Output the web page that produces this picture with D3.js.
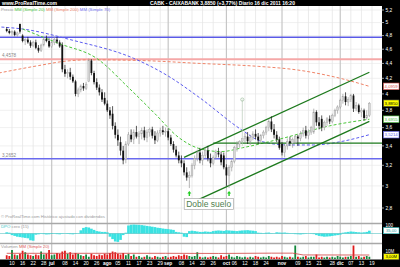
<!DOCTYPE html>
<html>
<head>
<meta charset="utf-8">
<script src="https://cdn.jsdelivr.net/npm/d3@7"></script>
<style>
  body { margin: 0; background: #fff; }
  svg { display: block; font-family: "Liberation Sans", Arial, sans-serif; }
</style>
</head>
<body>
<svg width="400" height="267"></svg>
<script>
// trading days on the axis (weekdays), the last few are empty future days
var firstDay = "2011-06-08", lastDay = "2011-12-23";

var open = [4.90,4.87,4.84,4.86,4.81,4.98,4.80,4.72,4.74,4.70,4.65,4.70,4.62,4.58,4.66,4.75,4.72,4.64,4.70,4.74,
  4.70,4.66,4.32,4.26,4.28,4.22,4.16,4.00,4.05,4.10,4.07,4.16,4.44,4.27,4.15,4.08,4.02,3.95,3.88,3.80,
  3.76,3.62,3.52,3.44,3.35,3.26,3.42,3.52,3.47,3.55,3.50,3.53,3.57,3.49,3.55,3.58,3.51,3.46,3.54,3.57,
  3.55,3.56,3.49,3.42,3.36,3.30,3.25,3.22,3.13,3.08,3.10,3.20,3.27,3.33,3.25,3.30,3.35,3.27,3.22,3.28,
  3.33,3.31,3.30,3.18,3.10,3.18,3.24,3.38,3.42,3.45,3.48,3.50,3.45,3.49,3.53,3.50,3.46,3.51,3.55,3.60,
  3.67,3.58,3.52,3.47,3.42,3.33,3.40,3.45,3.43,3.44,3.50,3.48,3.53,3.57,3.51,3.55,3.55,3.78,3.66,3.70,
  3.60,3.66,3.70,3.67,3.74,3.80,3.84,3.92,3.97,3.90,3.93,3.98,3.82,3.86,3.78,3.80,3.71,3.74];
var high = [4.93,4.90,4.88,4.88,4.86,4.97,4.82,4.76,4.78,4.73,4.72,4.74,4.66,4.68,4.77,4.80,4.76,4.72,4.78,4.78,
  4.73,4.70,4.38,4.32,4.34,4.25,4.18,4.08,4.12,4.14,4.15,4.47,4.46,4.30,4.20,4.12,4.06,4.02,3.92,3.84,
  3.85,3.66,3.58,3.50,3.40,3.45,3.55,3.58,3.58,3.62,3.56,3.60,3.61,3.58,3.60,3.61,3.56,3.57,3.60,3.62,
  3.60,3.59,3.52,3.45,3.40,3.34,3.30,3.25,3.18,3.14,3.22,3.30,3.36,3.38,3.34,3.38,3.40,3.32,3.30,3.36,
  3.38,3.34,3.33,3.21,3.20,3.26,3.40,3.45,3.46,3.93,3.54,3.55,3.52,3.56,3.58,3.54,3.53,3.57,3.62,3.70,
  3.73,3.64,3.56,3.50,3.44,3.42,3.48,3.50,3.49,3.52,3.52,3.56,3.60,3.62,3.58,3.62,3.82,3.80,3.72,3.74,
  3.68,3.72,3.74,3.76,3.82,3.86,3.94,4.00,4.02,3.96,4.00,4.00,3.90,3.88,3.83,3.82,3.80,3.90];
var low = [4.85,4.82,4.80,4.79,4.78,4.83,4.70,4.66,4.68,4.62,4.63,4.60,4.55,4.56,4.64,4.70,4.62,4.62,4.66,4.68,
  4.62,4.28,4.22,4.20,4.18,4.14,3.97,3.96,4.02,4.04,4.05,4.15,4.24,4.12,4.05,3.98,3.90,3.86,3.78,3.70,
  3.58,3.48,3.40,3.30,3.21,3.22,3.40,3.44,3.42,3.48,3.42,3.47,3.46,3.44,3.50,3.48,3.42,3.44,3.50,3.52,
  3.50,3.46,3.40,3.33,3.28,3.22,3.18,3.10,3.05,2.98,3.08,3.16,3.24,3.22,3.20,3.27,3.24,3.18,3.20,3.26,
  3.28,3.20,3.16,3.00,2.98,3.14,3.22,3.34,3.38,3.40,3.43,3.42,3.41,3.46,3.47,3.42,3.44,3.48,3.52,3.56,
  3.55,3.48,3.44,3.36,3.30,3.28,3.36,3.40,3.38,3.42,3.40,3.45,3.50,3.48,3.47,3.52,3.53,3.62,3.58,3.56,
  3.57,3.62,3.64,3.65,3.72,3.76,3.82,3.88,3.86,3.85,3.90,3.78,3.79,3.76,3.72,3.68,3.69,3.72];
var close = [4.87,4.84,4.86,4.81,4.84,4.86,4.72,4.74,4.70,4.65,4.70,4.62,4.58,4.66,4.75,4.72,4.64,4.70,4.74,4.71,
  4.64,4.32,4.26,4.28,4.22,4.16,4.00,4.05,4.10,4.07,4.12,4.44,4.27,4.15,4.08,4.02,3.93,3.88,3.80,3.74,
  3.62,3.52,3.46,3.35,3.25,3.42,3.52,3.47,3.55,3.50,3.53,3.57,3.49,3.55,3.58,3.51,3.46,3.54,3.57,3.55,
  3.56,3.49,3.42,3.36,3.30,3.25,3.22,3.13,3.08,3.10,3.20,3.27,3.33,3.25,3.30,3.35,3.27,3.22,3.28,3.33,
  3.31,3.23,3.18,3.10,3.18,3.24,3.38,3.42,3.45,3.48,3.50,3.45,3.49,3.53,3.50,3.46,3.51,3.55,3.60,3.67,
  3.58,3.52,3.47,3.38,3.33,3.40,3.45,3.43,3.47,3.50,3.48,3.53,3.57,3.51,3.55,3.60,3.78,3.66,3.62,3.60,
  3.66,3.70,3.67,3.74,3.80,3.84,3.92,3.97,3.90,3.93,3.98,3.82,3.86,3.78,3.80,3.71,3.74,3.885];

// oscillator histogram
var osc = [15,10,-20,-30,-40,-45,-50,-55,-60,-85,-90,-15,-10,-5,-8,-12,-10,-6,-4,-8,
  -10,-5,-3,-6,-8,-10,-5,-3,40,70,80,75,60,45,30,25,20,20,15,-40,
  -70,-100,-105,-80,-20,10,100,110,112,110,108,105,100,95,90,85,80,72,68,62,
  58,55,50,45,20,15,10,-40,-45,30,35,30,25,20,20,25,22,20,30,35,
  38,35,32,40,38,35,33,30,35,38,40,42,38,35,30,10,8,5,10,12,
  5,3,15,12,10,12,8,5,-5,-8,-10,-12,-8,-5,-2,-5,-8,-20,-30,-35,
  -40,-38,-35,-30,-25,-20,-15,10,15,20,25,22,18,15,12,15,20,35];

// volume, millions
var volume = [5,4,12,6,5,7,11,9,6,5,4,6,5,10,6,7,12,5,6,8,
  7,10,11,7,9,6,8,7,5,4,6,3,7,5,4,6,5,7,6,8,
  10,9,7,6,8,5,7,4,6,3,4,2,3,5,3,2,4,3,2,3,
  4,2,3,4,3,5,4,6,5,4,3,4,9,3,2,3,2,3,4,3,
  2,5,3,4,6,3,2,4,3,2,3,2,3,2,4,3,2,3,2,4,
  3,2,3,2,4,3,2,3,2,18,3,2,3,4,2,3,3,6,2,3,
  2,3,2,3,2,4,3,2,3,3,4,18,3,4,2,3,4,3];

// moving averages: [day index, value]
var ma20 = [[6,4.90],[20,4.68],[34,4.47],[46,4.08],[56,3.76],[65,3.49],[73,3.37],[81,3.34],[89,3.38],[104,3.48],[122,3.62],[137,3.6955]];
var ma200 = [[-3,4.27],[12,4.37],[22,4.43],[31,4.45],[51,4.44],[73,4.40],[95,4.36],[110,4.31],[126,4.20],[137,4.0959]];
var ma70 = [[-2,4.93],[6,4.90],[25,4.73],[48,4.47],[61,4.23],[73,3.95],[89,3.57],[96,3.45],[106,3.41],[116,3.41],[127,3.45],[137,3.5214]];
var volMa = [[0,7.6],[60,7.6],[80,7.4],[100,7.8],[108,7.8],[112,5.4],[137,5.3]];

// drawn objects
var channelUp = [[67,3.28],[137,4.28]];
var channelDown = [[72,2.87],[137,3.67]];
var support = 3.43, supportFrom = 78;
var levels = [{v: 4.775, c: "#5a5ae6", w: 1.6, label: ""},
              {v: 4.4578, c: "#f5a8a8", w: 2, label: "4,4578"},
              {v: 3.2652, c: "#6a6aee", w: 1.5, label: "3,2652"}];
var bottoms = [69, 84];
var spike = [89, 3.93];
var note = {i: 76.3, v: 2.835, text: "Doble suelo"};

var priceTicks = [5.2,5,4.8,4.6,4.4,4.2,4,3.8,3.6,3.4,3.2,3,2.8];
var tickDays = ["2011-06-10","2011-06-16","2011-06-22","2011-06-28","2011-07-01","2011-07-08","2011-07-14","2011-07-20","2011-07-26",
  "2011-08-01","2011-08-05","2011-08-11","2011-08-17","2011-08-23","2011-08-29","2011-09-01","2011-09-08","2011-09-14","2011-09-20","2011-09-26",
  "2011-10-03","2011-10-06","2011-10-12","2011-10-18","2011-10-24","2011-11-01","2011-11-09","2011-11-15","2011-11-21","2011-11-28",
  "2011-12-01","2011-12-07","2011-12-13","2011-12-19"];
var tickLabels = ["10","16","22","28","jul","08","14","20","26","ago","05","11","17","23","29","sep","08","14","20","26",
  "oct","06","12","18","24","nov","09","15","21","28","dic","07","13","19"];
var months = ["jul","ago","sep","oct","nov","dic"];

var es = d3.formatLocale({decimal: ",", thousands: ".", grouping: [3], currency: ["", "€"]});

var svg = d3.select("svg");
var plotR = 382;

var parse = d3.timeParse("%Y-%m-%d"), key = d3.timeFormat("%Y-%m-%d");
var days = d3.timeDay.range(parse(firstDay), d3.timeDay.offset(parse(lastDay), 1))
  .filter(function(d) { return d.getDay() != 0 && d.getDay() != 6; })
  .map(key);

var x = d3.scaleLinear().domain([0, days.length - 1]).range([6.7, 382.6]);
var y = d3.scaleLog().domain([2.8, 5.2]).range([208, 10]);
var yOsc = d3.scaleLinear().domain([0, 100]).range([233.5, 225.5]);
var yVol = d3.scaleLinear().domain([0, 10]).range([259, 251.5]);

// grid
var ticksX = tickDays.map(function(d, k) { return {x: x(days.indexOf(d)), label: tickLabels[k], month: months.indexOf(tickLabels[k]) >= 0}; });
svg.append("g").selectAll("line").data(priceTicks).enter().append("line")
  .attr("x1", 0).attr("x2", plotR).attr("y1", function(d) { return y(d); }).attr("y2", function(d) { return y(d); })
  .attr("stroke", "#ececec").attr("stroke-width", 0.8);
svg.append("g").selectAll("line").data(ticksX).enter().append("line")
  .attr("x1", function(d) { return d.x; }).attr("x2", function(d) { return d.x; })
  .attr("y1", 6).attr("y2", 259)
  .attr("stroke", function(d) { return d.month ? "#c6c6c6" : "#e6e6e6"; })
  .attr("stroke-width", function(d) { return d.month ? 1.2 : 0.8; });

// horizontal levels
levels.forEach(function(l) {
  svg.append("line").attr("x1", 0).attr("x2", plotR).attr("y1", y(l.v)).attr("y2", y(l.v))
    .attr("stroke", l.c).attr("stroke-width", l.w);
  if (l.label) svg.append("text").attr("x", 2).attr("y", y(l.v) - 2).attr("font-size", 4.6)
    .attr("fill", "#888").text(l.label);
});

// moving averages
var line = d3.line().curve(d3.curveMonotoneX)
  .x(function(d) { return x(d[0]); }).y(function(d) { return y(d[1]); });
[[ma200, "#f08468"], [ma70, "#5c5cf0"], [ma20, "#4cc63c"]].forEach(function(m) {
  svg.append("path").attr("d", line(m[0])).attr("fill", "none")
    .attr("stroke", m[1]).attr("stroke-width", 1).attr("stroke-dasharray", "3,2");
});

// channel and support
var straight = d3.line().x(function(d) { return x(d[0]); }).y(function(d) { return y(d[1]); });
[channelUp, channelDown].forEach(function(c) {
  svg.append("path").attr("d", straight(c)).attr("fill", "none").attr("stroke", "#1d7a1d").attr("stroke-width", 1.3);
});
svg.append("line").attr("x1", x(supportFrom)).attr("x2", plotR).attr("y1", y(support)).attr("y2", y(support))
  .attr("stroke", "#1d7a1d").attr("stroke-width", 1.3);

// candles
var idx = d3.range(close.length);
var up = function(i) { return close[i] >= open[i]; };
svg.append("g").selectAll("line").data(idx).enter().append("line")
  .attr("x1", function(i) { return x(i); }).attr("x2", function(i) { return x(i); })
  .attr("y1", function(i) { return y(high[i]); }).attr("y2", function(i) { return y(low[i]); })
  .attr("stroke", function(i) { return i == spike[0] ? "#b8c8b8" : up(i) ? "#9a9a9a" : "#111"; })
  .attr("stroke-width", 0.7);
svg.append("g").selectAll("rect").data(idx).enter().append("rect")
  .attr("x", function(i) { return x(i) - 0.9; }).attr("width", 1.8)
  .attr("y", function(i) { return y(Math.max(open[i], close[i])); })
  .attr("height", function(i) { return Math.max(0.7, Math.abs(y(open[i]) - y(close[i]))); })
  .attr("fill", function(i) { return up(i) ? "#d6d6d6" : "#111"; })
  .attr("stroke", function(i) { return up(i) ? "#a0a0a0" : "none"; }).attr("stroke-width", 0.4);
svg.append("circle").attr("cx", x(spike[0])).attr("cy", y(spike[1])).attr("r", 1.6)
  .attr("fill", "none").attr("stroke", "#a8c4a8").attr("stroke-width", 0.8);

// double bottom arrows and note
bottoms.forEach(function(i) {
  var ax = x(i), ay = y(low[i]) + 3;
  svg.append("path").attr("d", "M" + ax + "," + ay + "l-2,2.5h1.3v2.5h1.4v-2.5h1.3z").attr("fill", "#22cc22");
});
var nt = svg.append("text").attr("x", x(note.i)).attr("y", y(note.v) + 3).attr("text-anchor", "middle")
  .attr("font-size", 8.5).attr("fill", "#4f7f4f").text(note.text);
var bb = nt.node().getBBox();
svg.insert("rect", function() { return nt.node(); }).attr("x", bb.x - 2).attr("y", bb.y - 0.5)
  .attr("width", bb.width + 4).attr("height", bb.height + 1).attr("fill", "#fff").attr("stroke", "#aaa").attr("stroke-width", 0.7);

// legend
var leg = svg.append("text").attr("x", 1).attr("y", 10.5).attr("font-size", 4.3);
[["Precio ", "#999"], ["MM (Simple 20) ", "#4cc63c"], ["MM (Simple 200) ", "#f08468"], ["MM (Simple 70)", "#7070f0"]]
  .forEach(function(t) { leg.append("tspan").attr("fill", t[1]).text(t[0]); });
svg.append("text").attr("x", 1).attr("y", 218).attr("font-size", 4.3).attr("fill", "#999")
  .text("© ProRealTime.com Histórico ajustado con dividendos");

// oscillator panel
svg.append("line").attr("x1", 0).attr("x2", plotR).attr("y1", 223.5).attr("y2", 223.5).attr("stroke", "#a8a8a8").attr("stroke-width", 1.4);
svg.append("g").selectAll("rect").data(idx).enter().append("rect")
  .attr("x", function(i) { return x(i) - 1.33; }).attr("width", 2.66)
  .attr("y", function(i) { return Math.min(yOsc(osc[i]), yOsc(0)); })
  .attr("height", function(i) { return Math.abs(yOsc(osc[i]) - yOsc(0)); })
  .attr("fill", "#3ae2e2");
svg.append("line").attr("x1", 0).attr("x2", plotR).attr("y1", yOsc(0)).attr("y2", yOsc(0)).attr("stroke", "#3ab8b8").attr("stroke-width", 0.5);
var ol = svg.append("text").attr("x", 1).attr("y", 228).attr("font-size", 4.3);
ol.append("tspan").attr("fill", "#3ac8c8").text("DPO ");
ol.append("tspan").attr("fill", "#999").text("cero (15)");

// volume panel
svg.append("line").attr("x1", 0).attr("x2", plotR).attr("y1", 243.5).attr("y2", 243.5).attr("stroke", "#a8a8a8").attr("stroke-width", 1.4);
svg.append("g").selectAll("rect").data(idx).enter().append("rect")
  .attr("x", function(i) { return x(i) - 0.9; }).attr("width", 1.8)
  .attr("y", function(i) { return yVol(volume[i]); })
  .attr("height", function(i) { return yVol(0) - yVol(volume[i]); })
  .attr("fill", function(i) { return up(i) ? "#12873a" : "#e01a1a"; });
svg.append("path").attr("d", d3.line().x(function(d) { return x(d[0]); }).y(function(d) { return yVol(d[1]); })(volMa))
  .attr("fill", "none").attr("stroke", "#d04040").attr("stroke-width", 0.8);
var vl = svg.append("text").attr("x", 1).attr("y", 248).attr("font-size", 4.3);
vl.append("tspan").attr("fill", "#999").text("Volumen ");
vl.append("tspan").attr("fill", "#e06060").text("MM (Simple 20)");

// black frames
svg.append("rect").attr("x", 0).attr("y", 0).attr("width", 400).attr("height", 6).attr("fill", "#000");
svg.append("rect").attr("x", plotR).attr("y", 0).attr("width", 400 - plotR).attr("height", 267).attr("fill", "#000");
svg.append("rect").attr("x", 0).attr("y", 259.5).attr("width", 400).attr("height", 7.5).attr("fill", "#000");

svg.append("text").attr("x", 2).attr("y", 4.8).attr("font-size", 5).attr("font-weight", "bold").attr("fill", "#fff").text("www.ProRealTime.com");
svg.append("text").attr("x", 150).attr("y", 4.8).attr("font-size", 5).attr("font-weight", "bold").attr("fill", "#fff")
  .text("CABK - CAIXABANK   3,8850 (+3,77%)   Diario 16 dic 2011 16:20");

// date axis
svg.append("g").selectAll("text").data(ticksX).enter().append("text")
  .attr("x", function(d) { return d.x; }).attr("y", 265.3).attr("text-anchor", "middle")
  .attr("font-size", 4.8).attr("font-weight", function(d) { return d.month ? "bold" : "normal"; })
  .attr("fill", "#fff").text(function(d) { return d.label; });

// price axis
var fmt = es.format(".2~f");
svg.append("g").selectAll("text").data(priceTicks).enter().append("text")
  .attr("x", 385.5).attr("y", function(d) { return y(d) + 1.7; }).attr("font-size", 4.8)
  .attr("fill", "#fff").text(function(d) { return fmt(d); });
svg.append("g").selectAll("line").data(priceTicks).enter().append("line")
  .attr("x1", plotR).attr("x2", plotR + 2).attr("y1", function(d) { return y(d); }).attr("y2", function(d) { return y(d); })
  .attr("stroke", "#fff").attr("stroke-width", 0.6);

// last value boxes
var f4 = es.format(".4f");
var boxes = [[ma200[ma200.length - 1][1], "#fff", "#e05050", "#e05050"],
             [close[close.length - 1], "#ffff00", "#444", "#000"],
             [ma20[ma20.length - 1][1], "#fff", "#4cc63c", "#4cc63c"],
             [ma70[ma70.length - 1][1], "#fff", "#6060f0", "#6060f0"]];
boxes.forEach(function(b) {
  var by = y(b[0]);
  svg.append("rect").attr("x", 383.5).attr("y", by - 3.3).attr("width", 15.5).attr("height", 6.6)
    .attr("fill", b[1]).attr("stroke", b[2]).attr("stroke-width", 0.6);
  svg.append("text").attr("x", 391.2).attr("y", by + 1.6).attr("text-anchor", "middle").attr("font-size", 4.3)
    .attr("fill", b[3]).text(f4(b[0]));
});

// lower panel scales
svg.append("text").attr("x", 385.5).attr("y", yOsc(100) + 1.6).attr("font-size", 4.5).attr("fill", "#fff").text("100");
svg.append("rect").attr("x", 383.5).attr("y", yOsc(osc[osc.length - 1]) - 3).attr("width", 15.5).attr("height", 6)
  .attr("fill", "#fff").attr("stroke", "#3ac8c8").attr("stroke-width", 0.6);
svg.append("text").attr("x", 391.2).attr("y", yOsc(osc[osc.length - 1]) + 1.5).attr("text-anchor", "middle").attr("font-size", 4.2)
  .attr("fill", "#2aa8a8").text(es.format(".2f")(osc[osc.length - 1]));
svg.append("text").attr("x", 385.5).attr("y", yVol(10) + 1.6).attr("font-size", 4.5).attr("fill", "#fff").text("10M");
svg.append("rect").attr("x", 383.5).attr("y", yVol(volume[volume.length - 1]) - 3).attr("width", 15.5).attr("height", 6)
  .attr("fill", "#ffff00").attr("stroke", "#444").attr("stroke-width", 0.6);
svg.append("text").attr("x", 391.2).attr("y", yVol(volume[volume.length - 1]) + 1.5).attr("text-anchor", "middle").attr("font-size", 4.2)
  .attr("fill", "#000").text(es.format(".2f")(volume[volume.length - 1]) + "M");
</script>
</body>
</html>
